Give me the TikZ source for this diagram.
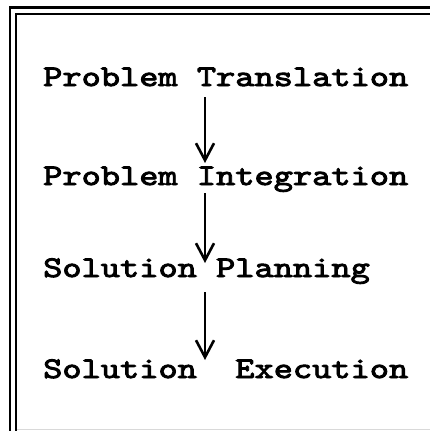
\documentclass[tikz,border=0pt]{standalone}
\usepackage{fontspec}
\usetikzlibrary{arrows.meta,calc}
\newfontfamily\typefont{lmmono10-regular.otf}[FakeBold=3,FakeStretch=1.22]
\begin{document}
\begin{tikzpicture}[x=1pt,y=-1pt,
  frameline/.style={line width=2.2pt,black},
  steptext/.style={anchor=base west,inner sep=0pt,font=\typefont\fontsize{30}{30}\selectfont},
  flow/.style={line width=1.8pt,-{Straight Barb[length=17pt,width=18pt,line width=2.6pt]}}]
  \useasboundingbox (0,0) rectangle (430,431);
  \fill[white] (0,0) rectangle (430,431);
  % double frame, open towards the right
  \draw[frameline] (10,431) -- (10,7.5) -- (430,7.5);
  \draw[frameline] (16,431) -- (16,14) -- (430,14);
  \draw[black!15,line width=1pt] (17,429.5) -- (430,429.5);
  % stages
  \node[steptext] (r1) at (43,86) {Problem Translation};
  \node[steptext] (r2) at (43,185) {Problem Integration};
  \node[steptext] (r3) at (43,277) {Solution Planning};
  \node[steptext] (r4) at (43,378) {Solution\ \ Execution};
  \coordinate (ax) at (205,0);
  \draw[flow] ($(r1.base -| ax)+(0,11)$) -- ($(r2.base -| ax)+(0,-22)$);
  \draw[flow] ($(r2.base -| ax)+(0,8)$) -- ($(r3.base -| ax)+(0,-14)$);
  \draw[flow] ($(r3.base -| ax)+(0,15)$) -- ($(r4.base -| ax)+(0,-18)$);
\end{tikzpicture}
\end{document}
